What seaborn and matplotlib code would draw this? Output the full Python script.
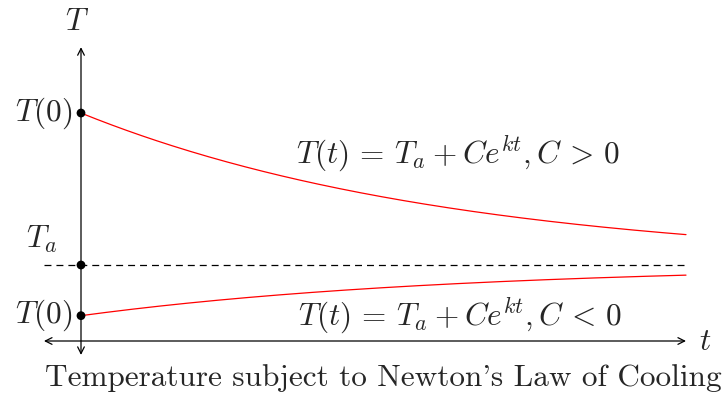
import numpy as np
import pandas as pd
import matplotlib
matplotlib.use("Agg")
import matplotlib.pyplot as plt
import seaborn as sns

sns.set_theme(style="white")
plt.rcParams["mathtext.fontset"] = "cm"
plt.rcParams["lines.scale_dashes"] = False

# ---- data ----
T_ambient = 3.0
T0_values = [9.0, 1.0]          # initial temperatures (C > 0, C < 0)
k_rate = np.log(0.2) / 24.0     # cooling constant
t_end = 24.0
curve_labels = [r"$T(t)\,=\,T_a\:+\:Ce^{kt}, C\,>\,0$", r"$T(t)\,=\,T_a\:+\:Ce^{kt}, C\,<\,0$"]
label_pos = [(458 - 81, 153), (460 - 81, 315)]

t = np.linspace(0, t_end, 200)
frames = []
for i, T0 in enumerate(T0_values):
    C = T0 - T_ambient
    frames.append(pd.DataFrame({"t": t, "T": T_ambient + C * np.exp(k_rate * t), "curve": i}))
df = pd.concat(frames)

u = 605 / 24.0
uy = 25.33
fig = plt.figure(figsize=(7.23, 3.94), dpi=100)
ax = fig.add_axes([0, 0, 1, 1])
ax.set_xlim(-81 / u, (723 - 81) / u)
ax.set_ylim(-(394 - 341) / uy, 341 / uy)
ax.axis("off")

sns.lineplot(data=df, x="t", y="T", units="curve", estimator=None, color="red",
             lw=0.9, ax=ax, legend=False)

# dashed ambient line
ax.plot([-1.47, t_end], [T_ambient, T_ambient], color="black", lw=0.9, dashes=(5, 3.6))

# axes arrows
arrow = dict(arrowstyle="<->", color="black", lw=0.9, shrinkA=0, shrinkB=0,
             mutation_scale=12)
ax.annotate("", xy=(t_end, 0), xytext=(-1.47, 0), arrowprops=arrow)
ax.annotate("", xy=(0, 11.6), xytext=(0, -0.55), arrowprops=arrow)

pts = pd.DataFrame({"t": [0, 0, 0], "T": [T0_values[0], T_ambient, T0_values[1]]})
sns.scatterplot(data=pts, x="t", y="T", color="black", s=40, ax=ax, zorder=5,
                edgecolor="none")

fs = 22.5
ax.text(-0.16, 12.6, r"$T$", fontsize=fs, ha="center", va="center")
ax.text(24.75, 0, r"$t$", fontsize=fs, ha="center", va="center")
ax.text(-0.35, T0_values[0], r"$T(0)$", fontsize=fs, ha="right", va="center")
ax.text(-0.35, T0_values[1], r"$T(0)$", fontsize=fs, ha="right", va="center")
ax.text(-1.55, 4.0, r"$T_a$", fontsize=fs, ha="center", va="center")
for lab, (px, py) in zip(curve_labels, label_pos):
    ax.text(px / u, (341 - py) / uy, lab, fontsize=fs, ha="center", va="center")

ax.text((383 - 81) / u, -(378 - 341) / uy, "Temperature subject to Newton's Law of Cooling",
        fontsize=fs, ha="center", va="center", family="cmr10")

fig.savefig("out.png", dpi=100)
